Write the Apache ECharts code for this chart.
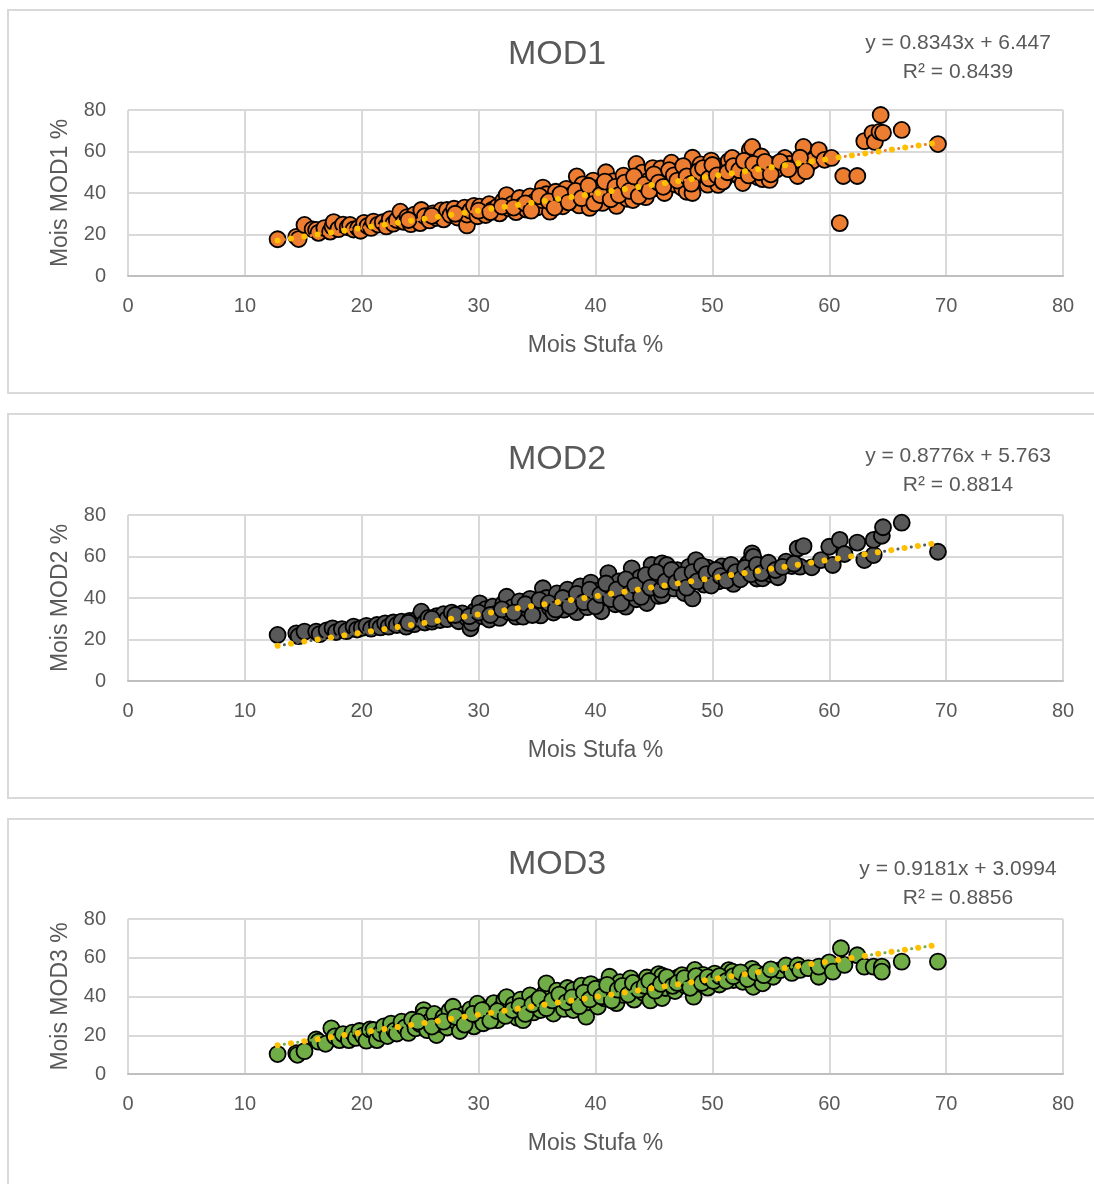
<!DOCTYPE html>
<html>
<head>
<meta charset="utf-8">
<title>MOD1 MOD2 MOD3 vs Stufa</title>
<script src="https://cdn.jsdelivr.net/npm/echarts@6/dist/echarts.min.js"></script>
<style>
  html, body { margin: 0; padding: 0; background: #fff; }
  #main { width: 1094px; height: 1184px; }
</style>
</head>
<body>
<div id="main"></div>
<script>
// valori: [Mois Stufa %, Mois MODx %]
var mod1Points = [[12.8,17.7],[14.4,18.9],[14.6,17.8],[15.1,24.6],[15.8,22.5],[16.1,22.2],[16.3,20.8],[16.8,23.1],[17.3,21.4],[17.5,23.8],[17.6,26.0],[18.0,22.6],[18.4,24.8],[18.8,23.5],[19.0,24.6],[19.3,22.4],[19.7,23.0],[19.9,21.8],[20.2,25.6],[20.5,24.1],[20.8,23.2],[21.0,26.2],[21.4,24.8],[21.8,25.9],[22.1,23.9],[22.4,27.4],[22.7,25.2],[23.0,27.0],[23.3,31.0],[23.6,26.1],[23.9,28.4],[24.2,25.0],[24.5,29.6],[24.8,27.2],[25.0,25.5],[25.1,31.8],[25.4,28.8],[25.8,26.8],[26.1,30.2],[26.4,28.0],[26.8,31.6],[27.0,27.3],[27.3,31.8],[27.6,29.4],[27.9,32.4],[28.2,28.2],[28.5,30.8],[28.8,33.0],[29.0,24.4],[29.0,29.6],[29.3,31.5],[29.6,33.8],[29.9,28.8],[30.1,33.4],[30.3,31.0],[30.6,29.4],[30.9,34.6],[31.2,32.0],[31.6,33.4],[31.8,30.2],[32.1,36.2],[32.4,39.0],[32.6,32.6],[32.9,34.8],[33.2,30.8],[33.5,37.6],[33.8,34.2],[34.1,32.0],[34.4,38.4],[34.7,35.6],[35.0,33.0],[35.4,36.6],[35.5,42.6],[35.8,39.4],[36.1,31.0],[36.3,35.4],[36.6,40.6],[36.9,37.0],[37.2,33.6],[37.5,42.0],[37.8,38.6],[38.1,36.6],[38.4,48.0],[38.6,34.0],[38.9,44.2],[39.2,40.2],[39.5,32.8],[39.8,46.0],[40.0,37.6],[40.3,42.6],[40.6,35.2],[40.9,50.0],[41.2,39.8],[41.5,45.6],[41.8,33.8],[42.1,42.0],[42.4,48.4],[42.7,37.2],[43.0,44.6],[43.2,36.6],[43.5,54.0],[43.8,40.8],[44.0,49.8],[44.3,38.0],[44.6,46.2],[44.9,52.0],[45.2,42.4],[45.6,51.8],[45.9,40.0],[46.2,47.6],[46.5,54.6],[46.8,44.2],[47.1,50.4],[47.4,42.6],[47.8,40.6],[48.0,52.6],[48.3,57.0],[48.3,40.0],[48.6,46.8],[49.0,53.8],[49.3,48.4],[49.6,44.0],[49.9,55.6],[50.2,50.2],[50.5,43.9],[50.8,52.8],[51.1,47.2],[51.4,55.4],[51.7,56.9],[52.0,50.6],[52.3,48.0],[52.6,44.8],[52.9,53.6],[53.2,60.8],[53.3,56.9],[53.4,62.2],[53.6,51.0],[53.9,47.6],[54.2,57.6],[54.3,46.7],[54.6,52.4],[54.9,46.3],[55.2,53.5],[55.5,51.4],[56.2,56.9],[56.6,54.0],[57.0,52.2],[57.3,48.2],[57.8,62.2],[58.2,53.8],[58.6,55.6],[59.1,60.7],[59.6,56.0],[60.2,56.9],[60.9,25.5],[61.2,48.2],[62.4,48.2],[63.0,65.0],[63.7,68.9],[63.9,64.6],[64.3,69.5],[64.4,77.6],[64.6,69.0],[66.2,70.4],[69.3,63.6],
    [24.0,27.0],[26.0,29.0],[28.0,30.0],[30.0,31.5],[31.0,30.8],[32.0,33.5],[33.0,33.0],[34.0,35.0],[34.5,31.5],[35.2,38.5],[36.0,36.0],[36.5,33.0],[37.0,39.5],[37.7,35.5],[38.3,41.0],[38.8,37.5],[39.4,43.5],[39.9,35.0],[40.4,39.0],[40.8,45.5],[41.3,37.0],[41.7,43.0],[42.0,39.0],[42.5,45.0],[42.9,41.0],[43.3,48.0],[43.7,38.5],[44.2,44.0],[44.6,41.0],[45.0,49.0],[45.4,45.0],[45.8,43.0],[46.3,51.0],[46.7,48.5],[47.0,46.0],[47.5,53.0],[47.8,48.0],[48.2,44.5],[48.8,50.5],[49.2,52.0],[49.7,47.0],[50.0,53.5],[50.4,48.5],[50.9,45.5],[51.3,50.0],[51.8,53.0],[52.3,51.0],[52.7,55.5],[53.1,48.5],[53.5,54.0],[54.0,50.0],[54.5,55.0],[55.0,49.0],[55.8,55.0],[56.5,51.5],[57.5,57.0],[58.0,50.5]];

var mod2Points = [[12.8,22.2],[14.4,23.0],[14.6,21.6],[15.1,23.8],[16.1,23.8],[16.4,22.6],[17.0,24.4],[17.5,25.4],[17.8,23.6],[18.3,25.0],[18.7,24.0],[19.3,26.2],[19.6,24.8],[20.0,25.6],[20.4,26.6],[20.8,25.2],[21.3,27.0],[21.6,25.8],[22.0,27.8],[22.3,26.2],[22.7,28.2],[23.0,27.0],[23.4,28.6],[23.8,26.2],[24.1,29.0],[24.5,27.4],[24.8,30.0],[25.1,33.4],[25.4,28.2],[25.7,30.4],[26.0,28.6],[26.4,31.2],[26.7,29.4],[27.0,32.2],[27.3,29.8],[27.7,33.0],[28.0,30.6],[28.3,28.8],[28.6,32.6],[29.0,30.4],[29.3,25.4],[29.4,28.0],[29.7,33.8],[30.1,37.4],[30.3,31.2],[30.6,34.6],[30.9,29.6],[31.2,35.8],[31.5,32.4],[31.8,30.4],[32.1,37.2],[32.4,40.6],[32.6,33.2],[32.9,35.6],[33.2,31.0],[33.5,38.4],[33.8,31.0],[34.1,35.0],[34.4,39.6],[34.7,33.2],[35.0,37.0],[35.3,31.6],[35.5,44.7],[35.8,40.0],[36.1,35.2],[36.4,33.0],[36.7,42.2],[37.0,37.8],[37.3,34.4],[37.6,44.0],[37.9,39.6],[38.1,37.4],[38.4,33.2],[38.7,45.6],[39.0,41.0],[39.3,35.6],[39.6,47.4],[39.9,38.6],[40.2,43.6],[40.5,33.6],[40.8,40.4],[41.1,52.0],[41.4,45.2],[41.7,37.0],[42.0,48.0],[42.3,41.6],[42.6,35.8],[42.9,46.6],[43.1,54.3],[43.5,39.4],[43.8,49.8],[44.1,43.0],[44.4,37.6],[44.8,55.9],[45.1,47.6],[45.4,41.0],[45.7,56.7],[45.7,41.4],[46.1,55.9],[46.4,50.6],[46.7,44.6],[47.0,53.4],[47.3,47.0],[47.6,42.4],[48.0,55.0],[48.3,39.8],[48.6,58.3],[48.9,50.0],[49.3,46.4],[49.6,54.6],[50.0,48.6],[50.5,48.0],[50.8,55.2],[51.1,51.0],[51.4,54.3],[51.8,46.8],[52.2,50.4],[52.6,52.7],[53.0,56.4],[53.2,57.5],[53.4,61.5],[53.5,59.8],[53.8,49.4],[54.3,49.5],[54.6,55.4],[55.0,51.4],[55.2,52.7],[55.6,50.0],[56.3,57.5],[56.8,55.4],[57.3,63.9],[57.5,55.1],[57.8,65.0],[58.5,54.8],[59.3,58.3],[60.0,64.7],[60.3,55.9],[60.9,68.0],[61.3,61.2],[62.4,66.7],[63.0,58.3],[63.8,60.7],[63.8,68.0],[64.5,70.0],[64.6,74.1],[66.2,76.3],[69.3,62.3],
    [24.0,28.0],[26.0,30.0],[28.0,31.8],[29.2,31.2],[30.0,33.0],[31.0,31.8],[32.0,34.5],[33.0,33.0],[34.0,37.0],[34.6,31.8],[35.2,39.0],[36.0,37.5],[36.6,34.5],[37.2,40.0],[37.8,36.0],[38.4,42.0],[39.0,38.0],[39.5,44.0],[40.0,36.0],[40.4,41.5],[40.9,47.0],[41.3,39.5],[41.8,44.0],[42.2,37.5],[42.6,49.0],[43.0,42.5],[43.4,46.0],[43.9,40.5],[44.3,51.0],[44.7,45.0],[45.2,52.5],[45.6,44.0],[46.0,48.0],[46.5,53.5],[46.9,47.5],[47.4,51.0],[47.8,45.0],[48.3,52.5],[48.7,48.0],[49.1,55.5],[49.5,51.5],[49.9,46.0],[50.3,53.5],[50.7,50.5],[51.2,48.5],[51.6,56.0],[52.0,52.5],[52.4,49.0],[52.8,54.5],[53.3,51.5],[53.8,56.0],[54.2,52.0],[54.8,57.0],[55.4,53.5],[56.0,55.0],[57.0,56.5]];

var mod3Points = [[12.8,10.3],[14.4,10.7],[14.5,9.9],[15.1,11.8],[16.1,17.8],[16.3,16.7],[16.9,15.6],[17.4,23.6],[17.7,19.4],[18.1,17.5],[18.4,20.6],[18.9,17.5],[19.2,21.4],[19.5,18.6],[19.8,22.2],[20.1,19.8],[20.4,17.2],[20.7,23.0],[21.0,22.7],[21.3,17.5],[21.6,21.0],[21.9,24.6],[22.2,19.6],[22.5,26.0],[22.8,22.4],[23.0,20.9],[23.4,27.0],[23.7,24.0],[24.0,21.2],[24.3,28.0],[24.6,23.6],[25.0,25.8],[25.3,33.0],[25.3,30.2],[25.6,22.6],[25.9,27.6],[26.2,31.0],[26.4,20.1],[26.7,25.8],[27.0,29.4],[27.3,24.0],[27.5,32.6],[27.8,34.7],[28.1,27.0],[28.4,22.2],[28.7,30.6],[29.0,27.8],[29.3,33.4],[29.6,24.6],[29.9,36.3],[30.1,29.5],[30.4,26.2],[30.7,33.6],[31.0,30.0],[31.3,36.6],[31.6,27.8],[31.9,34.0],[32.2,38.2],[32.4,39.7],[32.7,31.6],[33.0,35.8],[33.3,29.0],[33.6,38.4],[33.8,27.8],[34.1,34.2],[34.4,40.6],[34.7,31.8],[35.0,37.6],[35.3,33.0],[35.6,41.4],[35.8,46.8],[36.1,35.6],[36.4,31.2],[36.7,43.0],[37.0,38.2],[37.3,33.6],[37.6,44.4],[37.9,36.4],[38.1,43.3],[38.1,33.0],[38.5,40.2],[38.8,45.6],[39.2,29.6],[39.3,37.0],[39.6,46.4],[39.9,41.6],[40.2,34.8],[40.5,44.8],[40.8,39.0],[41.2,50.2],[41.5,42.8],[41.8,36.6],[42.1,47.4],[42.4,40.8],[42.7,44.6],[43.0,49.4],[43.3,38.4],[43.6,45.6],[43.8,46.8],[44.1,42.0],[44.4,49.8],[44.7,38.0],[45.0,47.0],[45.4,51.6],[45.7,50.7],[45.7,39.2],[46.0,44.4],[46.4,48.6],[46.8,42.8],[47.1,50.0],[47.4,51.0],[47.7,45.6],[48.0,49.2],[48.4,39.9],[48.5,53.7],[48.8,46.6],[49.2,51.2],[49.6,44.6],[49.9,48.5],[50.2,51.8],[50.6,46.2],[51.0,50.4],[51.4,53.6],[51.7,52.8],[51.8,48.5],[52.2,50.8],[52.6,47.6],[53.0,52.2],[53.4,54.3],[53.5,45.0],[53.8,50.0],[54.3,46.8],[54.8,52.4],[55.2,50.2],[55.8,53.6],[56.3,56.0],[56.8,52.2],[57.3,56.0],[57.5,53.7],[58.2,54.6],[59.1,50.2],[59.1,55.4],[60.0,57.6],[60.3,52.8],[61.0,64.9],[61.3,56.3],[62.4,61.3],[63.0,55.4],[63.8,55.4],[64.5,55.4],[64.5,52.8],[66.2,58.0],[69.3,58.0],
    [24.8,27.0],[26.0,24.5],[27.0,27.0],[28.0,29.5],[28.8,25.5],[29.5,31.0],[30.3,33.0],[31.0,27.5],[31.6,32.5],[32.3,30.0],[32.9,33.0],[33.5,35.0],[34.0,31.0],[34.6,36.0],[35.2,39.0],[35.8,34.0],[36.3,38.0],[36.9,41.0],[37.5,37.0],[38.0,39.5],[38.6,35.0],[39.0,42.0],[39.5,38.5],[40.0,44.0],[40.5,40.0],[41.0,46.0],[41.4,38.0],[41.9,43.5],[42.3,45.5],[42.8,41.0],[43.2,47.0],[43.7,43.5],[44.2,45.5],[44.6,48.0],[45.1,43.0],[45.6,46.5],[46.1,50.0],[46.6,45.5],[47.0,47.0],[47.6,49.5],[48.1,44.5],[48.6,50.5],[49.1,47.0],[49.6,50.0],[50.1,48.0],[50.6,50.5],[51.2,48.0],[51.8,50.5],[52.4,52.5],[53.0,49.0],[53.7,52.5],[54.4,51.0],[55.0,54.0]];

// linee di tendenza (estremi)
var mod1Trend = [[12.8,17.13],[69.2,64.18]];
var mod2Trend = [[12.8,16.996],[69.2,66.49]];
var mod3Trend = [[12.8,14.85],[69.2,66.63]];

var titles = ['MOD1','MOD2','MOD3'];
var yNames = ['Mois MOD1 %','Mois MOD2 %','Mois MOD3 %'];
var xName = 'Mois Stufa %';
var equations = ['y = 0.8343x + 6.447','y = 0.8776x + 5.763','y = 0.9181x + 3.0994'];
var r2Labels = ['R² = 0.8439','R² = 0.8814','R² = 0.8856'];
var markerColors = ['#ED7D31','#595959','#70AD47'];

var FONT = "'Liberation Sans', Arial, sans-serif";
var TXT = '#595959';

var myChart = echarts.init(document.getElementById('main'));

// posizione di ogni pannello
var panels = [
    {top:10, bottom:393, gridTop:110, gridH:166, titleY:55, eq1Y:43, eq2Y:72},
    {top:414, bottom:798, gridTop:515, gridH:166, titleY:460, eq1Y:456, eq2Y:485},
    {top:819, bottom:1200, gridTop:919, gridH:155, titleY:865, eq1Y:869, eq2Y:898}
];
var pointSets = [mod1Points, mod2Points, mod3Points];
var trendSets = [mod1Trend, mod2Trend, mod3Trend];

var grids = [], xAxes = [], yAxes = [], series = [], graphics = [];
for (var i = 0; i < 3; i++) {
    var p = panels[i];
    grids.push({left:128, width:935, top:p.gridTop, height:p.gridH, containLabel:false});
    xAxes.push({
        gridIndex:i, type:'value', min:0, max:80, interval:10,
        name:xName, nameLocation:'middle', nameGap:58,
        nameTextStyle:{color:TXT, fontSize:23, fontFamily:FONT},
        axisLine:{show:true, onZero:false, lineStyle:{color:'#bfbfbf', width:2}},
        axisTick:{show:false},
        axisLabel:{color:TXT, fontSize:20, fontFamily:FONT, margin:20},
        splitLine:{show:true, lineStyle:{color:'#d9d9d9', width:2}}
    });
    yAxes.push({
        gridIndex:i, type:'value', min:0, max:80, interval:20,
        name:yNames[i], nameLocation:'middle', nameGap:56, nameRotate:90,
        nameTextStyle:{color:TXT, fontSize:23, fontFamily:FONT},
        axisLine:{show:false}, axisTick:{show:false},
        axisLabel:{color:TXT, fontSize:20, fontFamily:FONT, margin:22},
        splitLine:{show:true, lineStyle:{color:'#d9d9d9', width:2}}
    });
    series.push({
        name:titles[i], type:'scatter', xAxisIndex:i, yAxisIndex:i,
        data:pointSets[i], symbolSize:16,
        itemStyle:{color:markerColors[i], borderColor:'#000', borderWidth:1.8, opacity:1},
        z:2
    });
    // tendenza: punti piccoli colorati + punti gialli
    series.push({
        type:'line', xAxisIndex:i, yAxisIndex:i, data:trendSets[i],
        showSymbol:false, silent:true, z:3,
        lineStyle:{color:markerColors[i], width:3, type:[0.1,13.4], dashOffset:6.7, cap:'round'}
    });
    series.push({
        type:'line', xAxisIndex:i, yAxisIndex:i, data:trendSets[i],
        showSymbol:false, silent:true, z:4,
        lineStyle:{color:'#FFC000', width:6, type:[0.1,13.4], cap:'round'}
    });
    graphics.push({
        type:'rect', silent:true, z:-10,
        shape:{x:8, y:p.top, width:1200, height:p.bottom - p.top},
        style:{fill:'none', stroke:'#d9d9d9', lineWidth:2}
    });
    graphics.push({
        type:'text', silent:true,
        style:{x:557, y:p.titleY, text:titles[i], textAlign:'center', textVerticalAlign:'middle',
               fill:TXT, font:'34px ' + FONT}
    });
    graphics.push({
        type:'text', silent:true,
        style:{x:958, y:p.eq1Y, text:equations[i], textAlign:'center', textVerticalAlign:'middle',
               fill:TXT, font:'21px ' + FONT}
    });
    graphics.push({
        type:'text', silent:true,
        style:{x:958, y:p.eq2Y, text:r2Labels[i], textAlign:'center', textVerticalAlign:'middle',
               fill:TXT, font:'21px ' + FONT}
    });
}

var option = {
    animation:false,
    backgroundColor:'#fff',
    grid:grids,
    xAxis:xAxes,
    yAxis:yAxes,
    series:series,
    graphic:graphics
};
myChart.setOption(option);
</script>
</body>
</html>
